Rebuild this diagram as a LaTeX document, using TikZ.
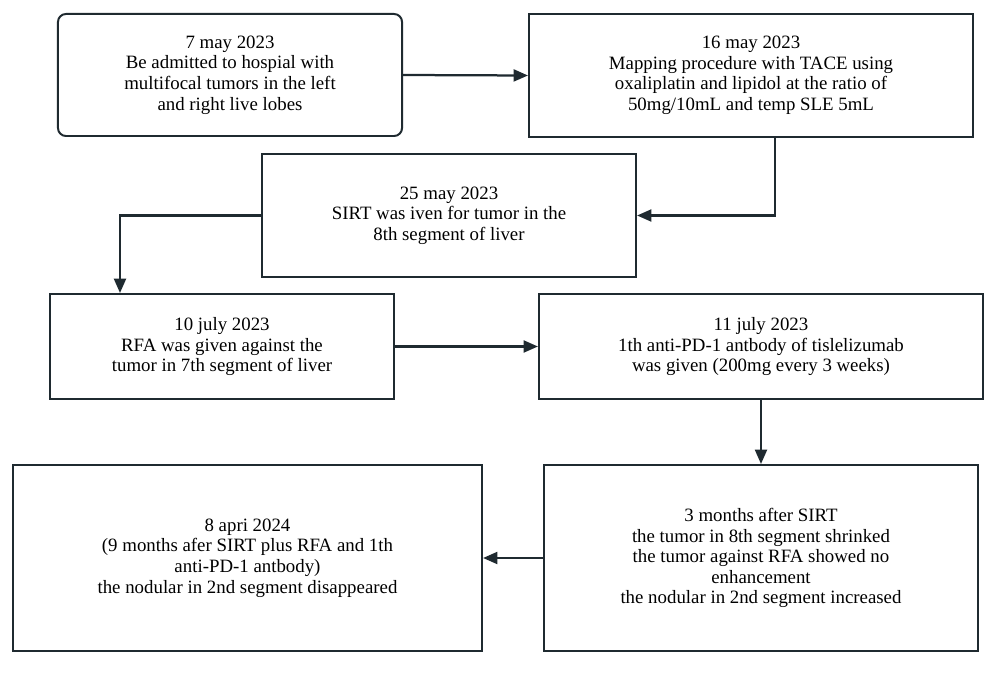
\documentclass[tikz,border=0pt]{standalone}
\usepackage{fontspec}
\setmainfont{Liberation Serif}
\usetikzlibrary{arrows.meta}
\definecolor{ink}{HTML}{1F2A30}
\tikzset{
  box/.style={draw=ink, line width=1.4pt, fill=white, align=center, inner sep=2pt,
    font=\fontsize{13.4}{14.6}\selectfont, text=black},
  arr/.style={draw=ink, line width=1.6pt, -{Triangle[length=0.36cm,width=0.3cm]}},
}
\begin{document}
\begin{tikzpicture}[x=0.025cm,y=-0.025cm]
\useasboundingbox (0,0) rectangle (1000,676);
\node[box, rounded corners=0.2cm, minimum width=8.6cm, minimum height=3.05cm] (b1) at (230,75)
  {7 may 2023\\Be admitted to hospial with\\multifocal tumors in the left\\and right live lobes};
\node[box, minimum width=11.1cm, minimum height=3.075cm] (b2) at (751,75.5)
  {16 may 2023\\Mapping procedure with TACE using\\oxaliplatin and lipidol at the ratio of\\50mg/10mL and temp SLE 5mL};
\node[box, minimum width=9.35cm, minimum height=3.075cm] (b3) at (449,215.5)
  {25 may 2023\\SIRT was iven for tumor in the\\8th segment of liver};
\node[box, minimum width=8.6cm, minimum height=2.625cm] (b4) at (222,346.5)
  {10 july 2023\\RFA was given against the\\tumor in 7th segment of liver};
\node[box, minimum width=11.1cm, minimum height=2.625cm] (b5) at (761,346.5)
  {11 july 2023\\1th anti-PD-1 antbody of tislelizumab\\was given (200mg every 3 weeks)};
\node[box, minimum width=11.725cm, minimum height=4.65cm] (b6) at (247.5,558)
  {8 apri 2024\\(9 months afer SIRT plus RFA and 1th\\anti-PD-1 antbody)\\the nodular in 2nd segment disappeared};
\node[box, minimum width=10.85cm, minimum height=4.65cm] (b7) at (761,558)
  {3 months after SIRT\\the tumor in 8th segment shrinked\\the tumor against RFA showed no\\enhancement\\the nodular in 2nd segment increased};
\coordinate (k2) at (775,0);
\coordinate (k3) at (120,0);
\draw[arr] (b1.east) -- (b2.west);
\draw[arr] (b2.south -| k2) |- (b3.east);
\draw[arr] (b3.west) -| (k3 |- b4.north);
\draw[arr] (b4.east) -- (b5.west);
\draw[arr] (b5.south) -- (b7.north);
\draw[arr] (b7.west) -- (b6.east);
\end{tikzpicture}
\end{document}
